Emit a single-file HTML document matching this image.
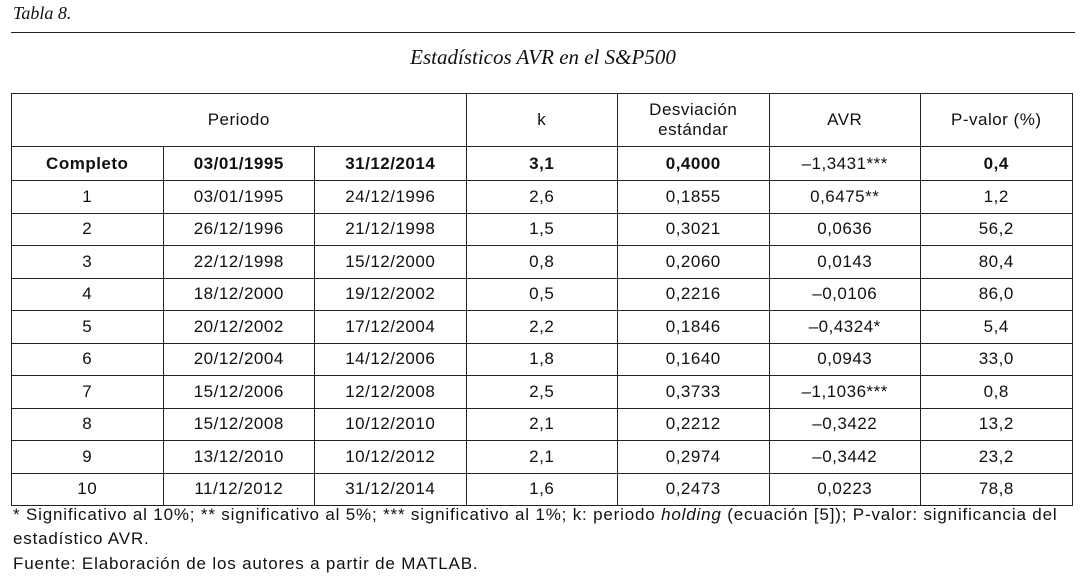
<!DOCTYPE html>
<html><head><meta charset="utf-8"><style>
body{margin:0;width:1080px;height:582px;background:#fff;position:relative;font-family:"Liberation Sans",sans-serif;color:#111;overflow:hidden}
.cap{position:absolute;left:13px;top:3px;font-family:"Liberation Serif",serif;font-style:italic;font-size:18px}
.rule{position:absolute;left:11px;width:1064px;top:32px;height:1px;background:#222}
.title{position:absolute;left:0;width:1086px;top:45px;text-align:center;font-family:"Liberation Serif",serif;font-style:italic;font-size:21px}
table{position:absolute;left:11px;top:93px;border-collapse:collapse;font-size:17px;letter-spacing:0.5px}
td{border:1.3px solid #222;text-align:center;padding:0;height:31.5px;width:150.5px}
tr.h td{height:52px;line-height:20px}
tr.b td{font-weight:bold;height:33px}
.n{position:absolute;left:13px;font-size:17px;letter-spacing:0.82px;white-space:nowrap}
</style></head><body>
<div class="cap">Tabla 8.</div>
<div class="rule"></div>
<div class="title">Estadísticos AVR en el S&amp;P500</div>
<table>
<tr class="h"><td colspan="3">Periodo</td><td>k</td><td>Desviación<br>estándar</td><td>AVR</td><td>P-valor (%)</td></tr>
<tr class="b"><td>Completo</td><td>03/01/1995</td><td>31/12/2014</td><td>3,1</td><td>0,4000</td><td style="font-weight:normal">–1,3431***</td><td>0,4</td></tr>
<tr><td>1</td><td>03/01/1995</td><td>24/12/1996</td><td>2,6</td><td>0,1855</td><td>0,6475**</td><td>1,2</td></tr>
<tr><td>2</td><td>26/12/1996</td><td>21/12/1998</td><td>1,5</td><td>0,3021</td><td>0,0636</td><td>56,2</td></tr>
<tr><td>3</td><td>22/12/1998</td><td>15/12/2000</td><td>0,8</td><td>0,2060</td><td>0,0143</td><td>80,4</td></tr>
<tr><td>4</td><td>18/12/2000</td><td>19/12/2002</td><td>0,5</td><td>0,2216</td><td>–0,0106</td><td>86,0</td></tr>
<tr><td>5</td><td>20/12/2002</td><td>17/12/2004</td><td>2,2</td><td>0,1846</td><td>–0,4324*</td><td>5,4</td></tr>
<tr><td>6</td><td>20/12/2004</td><td>14/12/2006</td><td>1,8</td><td>0,1640</td><td>0,0943</td><td>33,0</td></tr>
<tr><td>7</td><td>15/12/2006</td><td>12/12/2008</td><td>2,5</td><td>0,3733</td><td>–1,1036***</td><td>0,8</td></tr>
<tr><td>8</td><td>15/12/2008</td><td>10/12/2010</td><td>2,1</td><td>0,2212</td><td>–0,3422</td><td>13,2</td></tr>
<tr><td>9</td><td>13/12/2010</td><td>10/12/2012</td><td>2,1</td><td>0,2974</td><td>–0,3442</td><td>23,2</td></tr>
<tr><td>10</td><td>11/12/2012</td><td>31/12/2014</td><td>1,6</td><td>0,2473</td><td>0,0223</td><td>78,8</td></tr>
</table>
<div class="n" style="top:505px">* Significativo al 10%; ** significativo al 5%; *** significativo al 1%; k: periodo <i>holding</i> (ecuación [5]); P-valor: significancia del</div>
<div class="n" style="top:529px">estadístico AVR.</div>
<div class="n" style="top:554px">Fuente: Elaboración de los autores a partir de MATLAB.</div>
</body></html>
